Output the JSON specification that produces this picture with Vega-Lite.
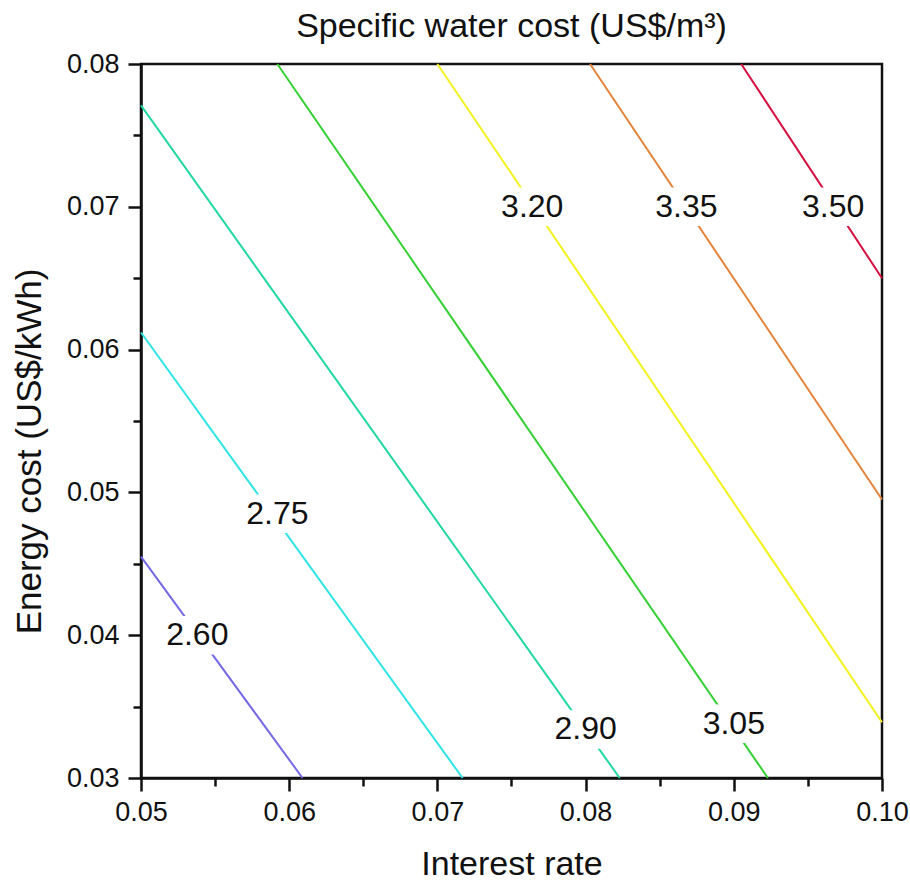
{
  "$schema": "https://vega.github.io/schema/vega-lite/v6.json",
  "width": 741,
  "height": 714,
  "autosize": "none",
  "padding": {"left": 141, "top": 64, "right": 28, "bottom": 103},
  "background": "white",
  "title": {"text": "Specific water cost (US$/m³)", "fontSize": 34, "font": "Liberation Sans", "fontWeight": "normal", "color": "#111", "anchor": "middle", "baseline": "bottom", "offset": 8, "dy": 36},
  "datasets": {
    "lines": [
      {"level": "2.60", "rate": 0.05, "energy": 0.0455},
      {"level": "2.60", "rate": 0.0609, "energy": 0.03},
      {"level": "2.75", "rate": 0.05, "energy": 0.0612},
      {"level": "2.75", "rate": 0.0717, "energy": 0.03},
      {"level": "2.90", "rate": 0.05, "energy": 0.0771},
      {"level": "2.90", "rate": 0.0823, "energy": 0.03},
      {"level": "3.05", "rate": 0.0592, "energy": 0.08},
      {"level": "3.05", "rate": 0.0923, "energy": 0.03},
      {"level": "3.20", "rate": 0.07, "energy": 0.08},
      {"level": "3.20", "rate": 0.1, "energy": 0.0339},
      {"level": "3.35", "rate": 0.0803, "energy": 0.08},
      {"level": "3.35", "rate": 0.1, "energy": 0.0495},
      {"level": "3.50", "rate": 0.0905, "energy": 0.08},
      {"level": "3.50", "rate": 0.1, "energy": 0.065}
    ],
    "labels": [
      {"label": "2.60", "rate": 0.0538, "energy": 0.04},
      {"label": "2.75", "rate": 0.0592, "energy": 0.0485},
      {"label": "2.90", "rate": 0.08, "energy": 0.0334},
      {"label": "3.05", "rate": 0.09, "energy": 0.0338},
      {"label": "3.20", "rate": 0.0764, "energy": 0.07},
      {"label": "3.35", "rate": 0.0868, "energy": 0.07},
      {"label": "3.50", "rate": 0.0967, "energy": 0.07}
    ]
  },
  "layer": [
    {
      "data": {"name": "lines"},
      "mark": {"type": "line", "strokeWidth": 2},
      "encoding": {
        "x": {
          "field": "rate", "type": "quantitative",
          "scale": {"domain": [0.05, 0.1], "nice": false, "zero": false},
          "axis": {"orient": "bottom", "values": [0.05, 0.06, 0.07, 0.08, 0.09, 0.1], "format": ".2f", "labelFlush": false, "labelOverlap": false, "title": "Interest rate", "titleFontSize": 34, "titleFont": "Liberation Sans", "titleFontWeight": "normal", "titleColor": "#111", "titleBaseline": "alphabetic", "titleY": 96, "tickSize": 13, "tickWidth": 2.5, "labelPadding": 8, "labelFontSize": 27, "domainColor": "#111", "domainWidth": 2.5, "grid": false}
        },
        "y": {
          "field": "energy", "type": "quantitative",
          "scale": {"domain": [0.03, 0.08], "nice": false, "zero": false},
          "axis": {"orient": "left", "values": [0.03, 0.04, 0.05, 0.06, 0.07, 0.08], "format": ".2f", "labelFlush": false, "labelOverlap": false, "title": "Energy cost (US$/kWh)", "titleFontSize": 35, "titleFont": "Liberation Sans", "titleFontWeight": "normal", "titleColor": "#111", "titleAngle": 270, "titleBaseline": "alphabetic", "titleAlign": "center", "titleX": -101, "titleY": 387, "tickSize": 13, "tickWidth": 2.5, "labelPadding": 9, "labelFontSize": 27, "domainColor": "#111", "domainWidth": 2.5, "grid": false}
        },
        "color": {
          "field": "level", "type": "nominal",
          "scale": {"domain": ["2.60", "2.75", "2.90", "3.05", "3.20", "3.35", "3.50"], "range": ["#7468e4", "#2ee4e4", "#22d8a2", "#34d034", "#f2f21e", "#e4843a", "#d41040"]},
          "legend": null
        }
      }
    },
    {
      "data": {"name": "labels"},
      "mark": {"type": "point", "shape": "M-1,-0.55L1,-0.55L1,0.55L-1,0.55Z", "size": 4900, "filled": true, "color": "white", "opacity": 1, "strokeWidth": 0},
      "encoding": {
        "x": {"field": "rate", "type": "quantitative", "axis": {"orient": "bottom", "values": [0.055, 0.065, 0.075, 0.085, 0.095], "labels": false, "domain": false, "title": null, "tickSize": 8, "tickWidth": 2.5, "grid": false}},
        "y": {"field": "energy", "type": "quantitative", "axis": {"orient": "left", "values": [0.035, 0.045, 0.055, 0.065, 0.075], "labels": false, "domain": false, "title": null, "tickSize": 8, "tickWidth": 2.5, "grid": false}}
      }
    },
    {
      "data": {"name": "labels"},
      "mark": {"type": "text", "fontSize": 32, "font": "Liberation Sans", "color": "#111", "align": "center", "baseline": "middle"},
      "encoding": {
        "x": {"field": "rate", "type": "quantitative", "axis": null},
        "y": {"field": "energy", "type": "quantitative", "axis": null},
        "text": {"field": "label"}
      }
    }
  ],
  "resolve": {"axis": {"x": "independent", "y": "independent"}},
  "config": {
    "axis": {"labelFont": "Liberation Sans", "labelColor": "#111", "tickColor": "#111", "grid": false},
    "view": {"stroke": "#111", "strokeWidth": 2.5}
  }
}
